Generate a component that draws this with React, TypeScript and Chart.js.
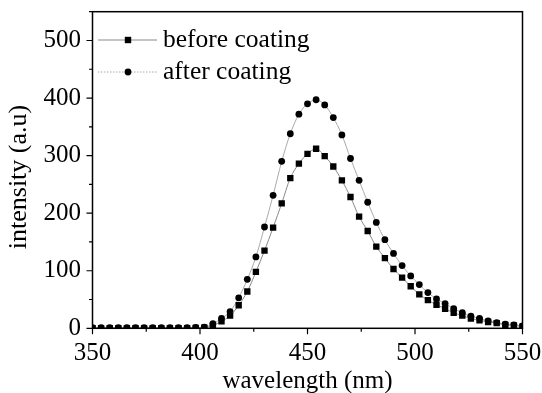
import React, { useEffect, useRef } from 'react';
import { Chart, registerables } from 'chart.js';

Chart.register(...registerables);

const wavelengths = [350, 354, 358, 362, 366, 370, 374, 378, 382, 386, 390, 394, 398, 402, 406, 410, 414, 418, 422, 426, 430, 434, 438, 442, 446, 450, 454, 458, 462, 466, 470, 474, 478, 482, 486, 490, 494, 498, 502, 506, 510, 514, 518, 522, 526, 530, 534, 538, 542, 546, 550];

const beforeCoating = [0, 0, 0, 0, 0, 0, 0, 0, 0, 0, 0, 0, 0.5, 1, 5, 12, 22, 40, 64, 98, 135, 175, 217, 261, 286, 303, 312, 299, 281, 257, 228, 194, 169, 142, 122, 103, 88, 73, 59, 49, 41, 34, 27, 22, 17, 14, 11, 9, 6, 5, 3];

const afterCoating = [1, 1, 1, 1, 1, 1, 1, 1, 1, 1, 1, 1, 1.5, 2, 8, 17, 29, 53, 85, 124, 176, 231, 290, 338, 372, 390, 397, 388, 366, 336, 295, 257, 219, 184, 154, 130, 109, 91, 76, 62, 51, 43, 34, 27, 21, 17, 13, 10, 7, 6, 4];

const seriesNames = ['before coating', 'after coating'];
const xTitle = 'wavelength (nm)';
const yTitle = 'intensity (a.u)';
const xMin = 350;
const xMax = 550;
const xMajorStep = 50;
const xMinorStep = 25;
const yMin = 0;
const yMax = 550;
const yMajorStep = 100;
const yMinorStep = 50;

const FONT = "'Liberation Serif', 'Times New Roman', serif";

const framePlugin = {
  id: 'frameTicksLegend',
  afterDraw(chart: any) {
    const { ctx, chartArea } = chart;
    const xs = chart.scales.x;
    const ys = chart.scales.y;
    ctx.save();
    ctx.strokeStyle = '#000';
    ctx.lineWidth = 1.5;
    ctx.strokeRect(chartArea.left, chartArea.top, chartArea.right - chartArea.left, chartArea.bottom - chartArea.top);
    ctx.lineWidth = 1.2;
    ctx.beginPath();
    for (let v = xMin; v <= xMax; v += xMinorStep) {
      const px = xs.getPixelForValue(v);
      const len = v % xMajorStep === 0 ? 6 : 3.5;
      ctx.moveTo(px, chartArea.bottom);
      ctx.lineTo(px, chartArea.bottom + len);
    }
    for (let v = yMin; v <= yMax; v += yMinorStep) {
      const py = ys.getPixelForValue(v);
      const len = v % yMajorStep === 0 ? 6 : 3.5;
      ctx.moveTo(chartArea.left, py);
      ctx.lineTo(chartArea.left - len, py);
    }
    ctx.stroke();

    // y title
    ctx.save();
    ctx.translate(19, 177);
    ctx.rotate(-Math.PI / 2);
    ctx.font = `26px ${FONT}`;
    ctx.fillStyle = '#000';
    ctx.textAlign = 'center';
    ctx.textBaseline = 'middle';
    ctx.fillText(yTitle, 0, 0);
    ctx.restore();

    // legend
    const rows = [
      { y: 40, dash: [] as number[], color: '#8a8a8a', style: 'rect' },
      { y: 72, dash: [1.5, 1.5], color: '#aaaaaa', style: 'circle' },
    ];
    rows.forEach((r, i) => {
      ctx.save();
      ctx.strokeStyle = r.color;
      ctx.lineWidth = 1;
      ctx.setLineDash(r.dash);
      ctx.beginPath();
      ctx.moveTo(98, r.y);
      ctx.lineTo(157, r.y);
      ctx.stroke();
      ctx.restore();
      ctx.fillStyle = '#000';
      if (r.style === 'rect') {
        ctx.fillRect(128 - 3.2, r.y - 3.2, 6.4, 6.4);
      } else {
        ctx.beginPath();
        ctx.arc(128, r.y, 3.4, 0, Math.PI * 2);
        ctx.fill();
      }
      ctx.font = `25.5px ${FONT}`;
      ctx.textBaseline = 'middle';
      ctx.textAlign = 'left';
      ctx.fillText(seriesNames[i], 163, r.y);
    });
    ctx.restore();
  },
};

export default function App() {
  const ref = useRef<HTMLCanvasElement>(null);
  useEffect(() => {
    const canvas = ref.current;
    if (!canvas) return;
    const chart = new Chart(canvas, {
      type: 'line',
      data: {
        datasets: [
          {
            label: seriesNames[0],
            data: wavelengths.map((x, i) => ({ x, y: beforeCoating[i] })),
            borderColor: '#8a8a8a',
            borderWidth: 1,
            pointStyle: 'rect',
            pointRadius: 4.5,
            pointBackgroundColor: '#000',
            pointBorderWidth: 0,
            cubicInterpolationMode: 'monotone',
            clip: 0,
          },
          {
            label: seriesNames[1],
            data: wavelengths.map((x, i) => ({ x, y: afterCoating[i] })),
            borderColor: '#aaaaaa',
            borderWidth: 1,
            pointStyle: 'circle',
            pointRadius: 3.4,
            pointBackgroundColor: '#000',
            pointBorderWidth: 0,
            cubicInterpolationMode: 'monotone',
            clip: 0,
          },
        ],
      },
      options: {
        responsive: false,
        animation: false,
        events: [],
        layout: { padding: { left: 0, top: 11.7, right: 19.5, bottom: 0 } },
        plugins: { legend: { display: false }, tooltip: { enabled: false } },
        scales: {
          x: {
            type: 'linear',
            min: xMin,
            max: xMax,
            grid: { display: false, drawTicks: false },
            border: { display: false },
            ticks: {
              stepSize: xMajorStep,
              padding: 10,
              color: '#000',
              font: { family: FONT, size: 25 },
              maxRotation: 0,
            },
            title: {
              display: true,
              text: xTitle,
              color: '#000',
              font: { family: FONT, size: 25 },
              padding: { top: 0, bottom: -3 },
            },
            afterFit(scale: any) {
              scale.height = 64.7;
              scale.paddingLeft = 0;
              scale.paddingRight = 0;
            },
          },
          y: {
            type: 'linear',
            min: yMin,
            max: yMax,
            grid: { display: false, drawTicks: false },
            border: { display: false },
            ticks: {
              stepSize: yMajorStep,
              includeBounds: false,
              padding: 11.5,
              color: '#000',
              font: { family: FONT, size: 25 },
              callback: (v: any) => (Number(v) % yMajorStep === 0 ? String(v) : ''),
            },
            title: { display: false },
            afterFit(scale: any) {
              scale.width = 92.5;
              scale.paddingTop = 0;
              scale.paddingBottom = 0;
            },
          },
        },
      },
      plugins: [framePlugin],
    });
    return () => chart.destroy();
  }, []);
  return (
    <div style={{ position: 'fixed', left: 0, top: 0, width: 542, height: 393, background: '#fff' }}>
      <canvas ref={ref} width={542} height={393} style={{ display: 'block', width: 542, height: 393 }} />
    </div>
  );
}
